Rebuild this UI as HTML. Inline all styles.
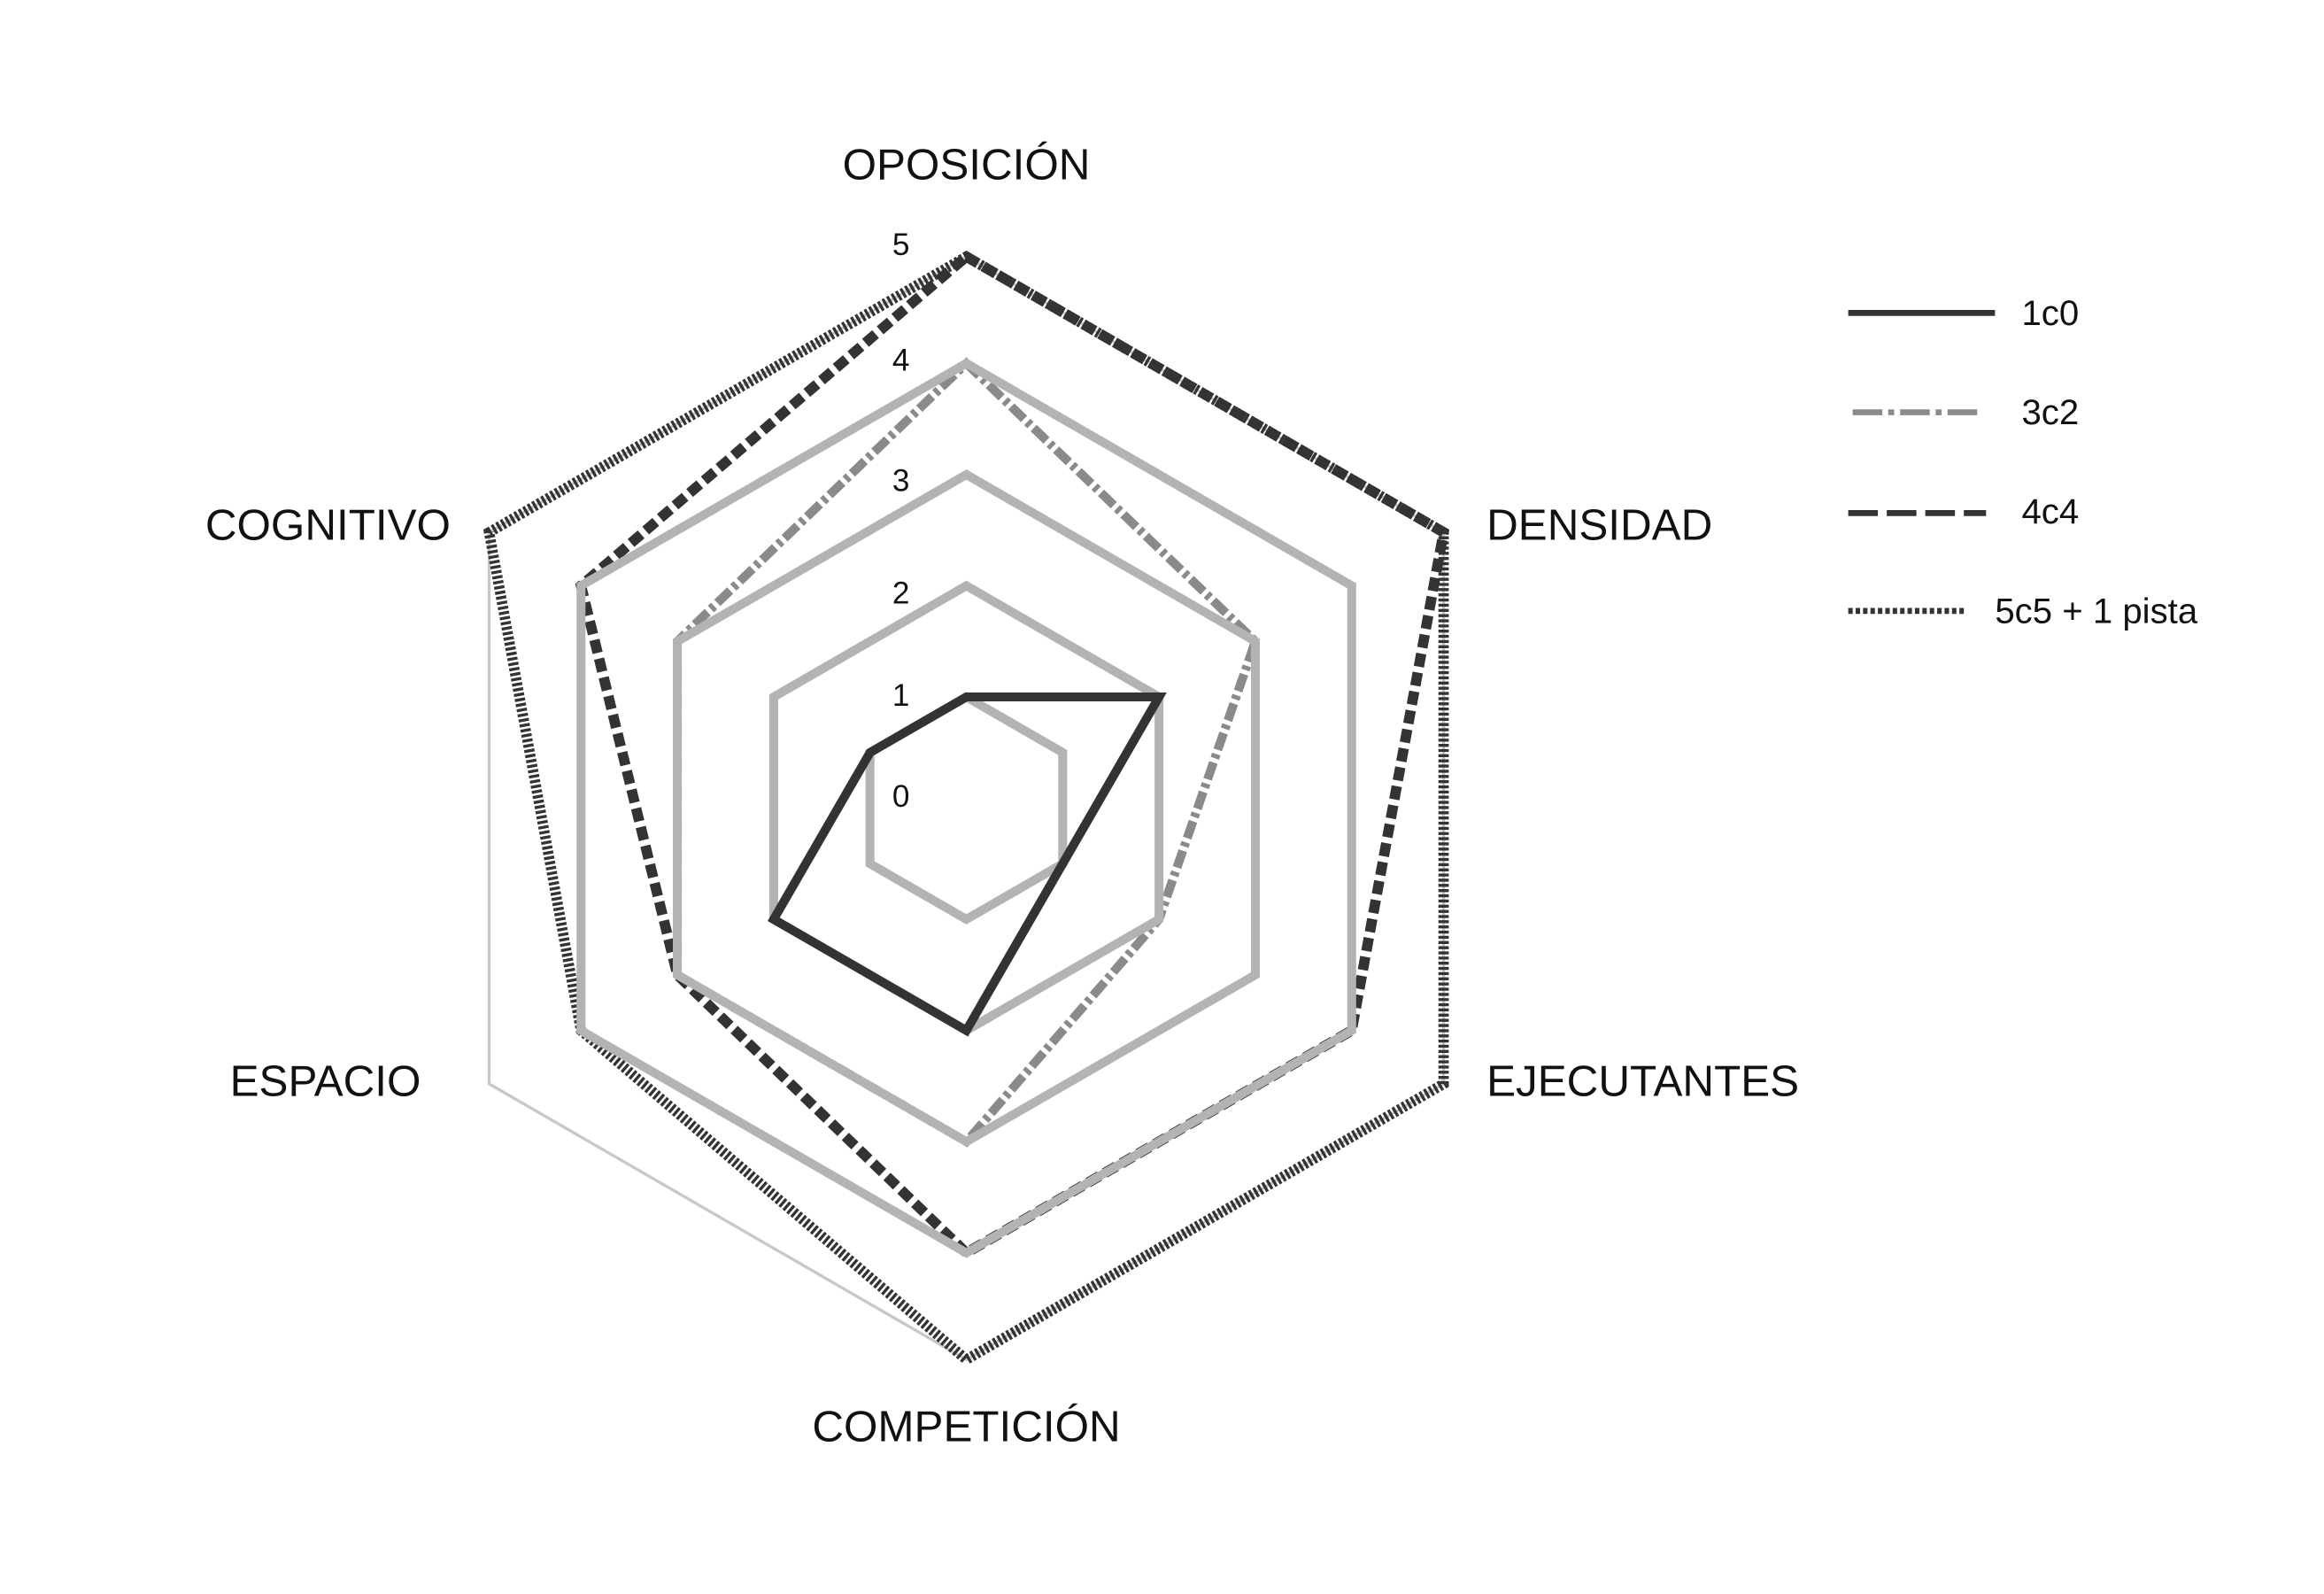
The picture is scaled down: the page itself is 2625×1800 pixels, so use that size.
<!DOCTYPE html>
<html><head><meta charset="utf-8"><style>
html,body{margin:0;padding:0;background:#fff;}
svg{display:block;}
text{font-family:"Liberation Sans",Arial,sans-serif;fill:#111;}
</style></head><body>
<svg width="2625" height="1800" viewBox="0 0 1568 1075" xmlns="http://www.w3.org/2000/svg">
<rect width="1568" height="1075" fill="#fff"/>
<!-- grid level 5 thin -->
<polygon points="652,173 974,359 974,731 652,917 330,731 330,359" fill="none" stroke="#c8c8c8" stroke-width="2"/>
<!-- 5c5 dotted -->
<polygon points="652,173 974,359 974,731 652,917 392,695 330,359" fill="none" stroke="#333" stroke-width="7" stroke-dasharray="2 1.5"/>
<!-- 4c4 dashed -->
<polygon points="652,173 974,359 912,695 652,845 457,657.5 392,395" fill="none" stroke="#333" stroke-width="7" stroke-dasharray="9 4"/>
<!-- 3c2 dash-dot -->
<polygon points="652,245 847,432.5 782,620 652,770 457,657.5 457,432.5" fill="none" stroke="#8a8a8a" stroke-width="6" stroke-dasharray="12 3 3 3"/>
<!-- grid levels 1-4 -->
<g fill="none" stroke="#b3b3b3" stroke-width="6">
<polygon points="652,470 717,507.5 717,582.5 652,620 587,582.5 587,507.5"/>
<polygon points="652,395 782,470 782,620 652,695 522,620 522,470"/>
<polygon points="652,320 847,432.5 847,657.5 652,770 457,657.5 457,432.5"/>
<polygon points="652,245 912,395 912,695 652,845 392,695 392,395"/>
</g>
<!-- 1c0 solid -->
<polygon points="652,470 782,470 717,582.5 652,695 522,620 587,507.5" fill="none" stroke="#333" stroke-width="6" stroke-linejoin="miter"/>
<!-- ticks -->
<g font-size="21">
<text x="602" y="172">5</text>
<text x="602" y="250">4</text>
<text x="602" y="331">3</text>
<text x="602" y="407">2</text>
<text x="602" y="476">1</text>
<text x="602" y="544">0</text>
</g>
<!-- axis labels -->
<g font-size="29.5">
<text x="652" y="121" text-anchor="middle">OPOSICIÓN</text>
<text x="1003" y="364">DENSIDAD</text>
<text x="1003" y="739">EJECUTANTES</text>
<text x="652" y="972" text-anchor="middle">COMPETICIÓN</text>
<text x="284" y="739" text-anchor="end">ESPACIO</text>
<text x="304" y="364" text-anchor="end">COGNITIVO</text>
</g>
<!-- legend -->
<line x1="1247" y1="211" x2="1346" y2="211" stroke="#333" stroke-width="4"/>
<line x1="1250" y1="278" x2="1335" y2="278" stroke="#8a8a8a" stroke-width="4" stroke-dasharray="20 4 4 4"/>
<line x1="1247" y1="346" x2="1340" y2="346" stroke="#333" stroke-width="4" stroke-dasharray="20 6"/>
<line x1="1247" y1="412" x2="1325" y2="412" stroke="#333" stroke-width="4" stroke-dasharray="3 2"/>
<g font-size="24">
<text x="1364" y="219">1c0</text>
<text x="1364" y="286">3c2</text>
<text x="1364" y="353">4c4</text>
<text x="1346" y="420">5c5 + 1 pista</text>
</g>
</svg>
</body></html>
